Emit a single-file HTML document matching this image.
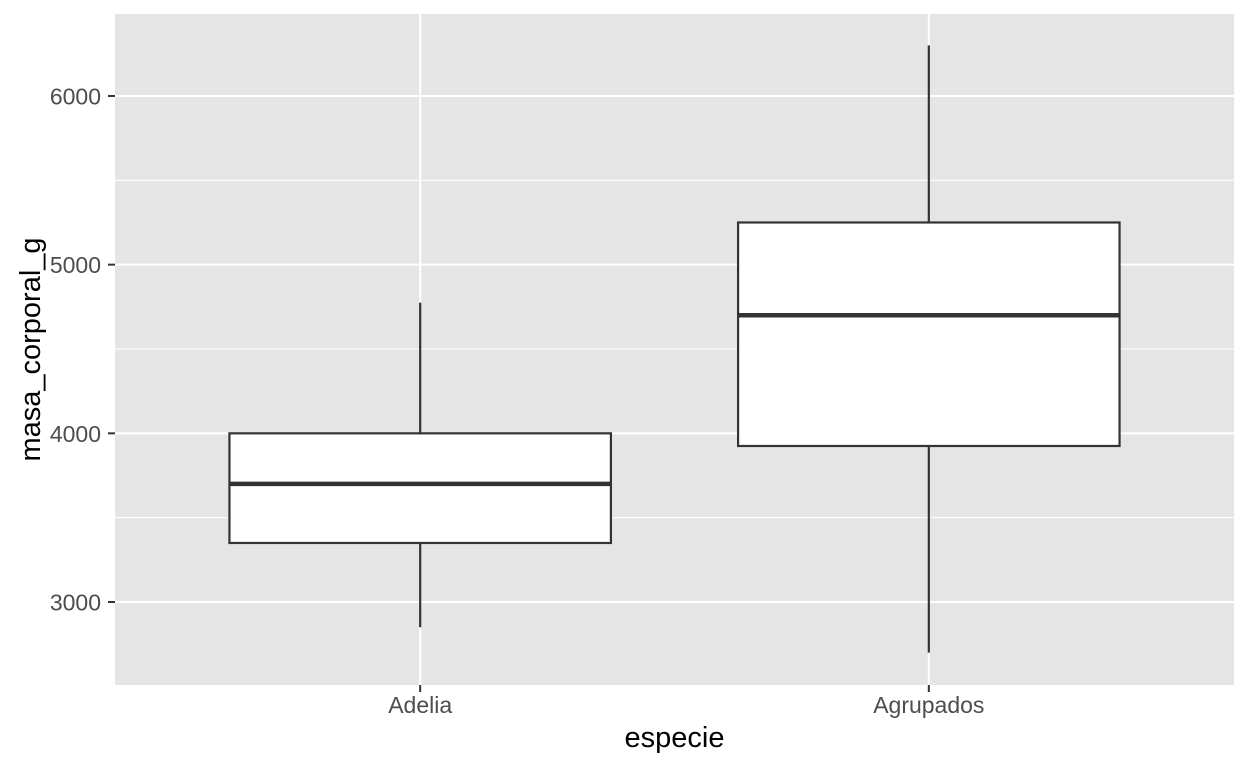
<!DOCTYPE html>
<html><head><meta charset="utf-8"><style>
html,body{margin:0;padding:0;background:#fff;}
svg{display:block;font-family:"Liberation Sans",Arial,sans-serif;}
</style></head><body>
<svg id="chart" width="1248" height="768"></svg>
<script>
const categories = ["Adelia","Agrupados"];
const lowerWhisker = [2850, 2700];
const q1Values = [3350, 3925];
const medians = [3700, 4700];
const q3Values = [4000, 5250];
const upperWhisker = [4775, 6300];
const yTicks = [3000, 4000, 5000, 6000];
const yMinor = [3500, 4500, 5500];

const svg = document.getElementById('chart');
const NS = 'http://www.w3.org/2000/svg';
const P = {l:115, r:1234, t:14, b:685};
const yMin = 2508, yMax = 6486;
const y = v => P.b - (v - yMin) / (yMax - yMin) * (P.b - P.t);
const unit = (P.r - P.l) / (categories.length - 1 + 1.2);
const x = i => P.l + (i + 0.6) * unit;
function mk(tag, attrs, name, text){
  const e = document.createElementNS(NS, tag);
  for (const k in attrs) e.setAttribute(k, attrs[k]);
  
  
  if (text !== undefined) e.textContent = text;
  svg.appendChild(e);
  return e;
}
mk('rect', {x:P.l, y:P.t, width:P.r-P.l, height:P.b-P.t, fill:'#e5e5e5'}, 'plot-panel');
yMinor.forEach(v => mk('line', {x1:P.l, x2:P.r, y1:y(v), y2:y(v), stroke:'#fff', 'stroke-width':1}, 'minor-gridline'));
yTicks.forEach(v => {
  mk('line', {x1:P.l, x2:P.r, y1:y(v), y2:y(v), stroke:'#fff', 'stroke-width':2}, 'major-gridline');
  mk('line', {x1:P.l-7, x2:P.l, y1:y(v), y2:y(v), stroke:'#333', 'stroke-width':2}, 'y-tick');
  mk('text', {x:101, y:y(v)+8.5, 'text-anchor':'end', 'font-size':23, fill:'#4d4d4d'}, 'y-tick-label', String(v));
});
categories.forEach((c, i) => {
  const cx = x(i), hw = 0.375 * unit;
  mk('line', {x1:cx, x2:cx, y1:P.t, y2:P.b, stroke:'#fff', 'stroke-width':2}, 'x-gridline');
  mk('line', {x1:cx, x2:cx, y1:P.b, y2:P.b+7, stroke:'#333', 'stroke-width':2}, 'x-tick');
  mk('text', {x:cx, y:713, 'text-anchor':'middle', 'font-size':23, fill:'#4d4d4d'}, 'x-tick-label', c);
  mk('line', {x1:cx, x2:cx, y1:y(q3Values[i]), y2:y(upperWhisker[i]), stroke:'#333', 'stroke-width':2.2}, 'upper-whisker');
  mk('line', {x1:cx, x2:cx, y1:y(q1Values[i]), y2:y(lowerWhisker[i]), stroke:'#333', 'stroke-width':2.2}, 'lower-whisker');
  mk('rect', {x:cx-hw, y:y(q3Values[i]), width:2*hw, height:y(q1Values[i])-y(q3Values[i]), fill:'#fff', stroke:'#333', 'stroke-width':2.2}, 'box-' + c.toLowerCase());
  mk('line', {x1:cx-hw, x2:cx+hw, y1:y(medians[i]), y2:y(medians[i]), stroke:'#333', 'stroke-width':4.5}, 'median-line');
});
mk('text', {x:(P.l+P.r)/2, y:747, 'text-anchor':'middle', 'font-size':29, fill:'#000'}, 'x-axis-title', 'especie');
mk('text', {x:40, y:(P.t+P.b)/2, 'text-anchor':'middle', 'font-size':29, fill:'#000', transform:'rotate(-90 40 '+((P.t+P.b)/2)+')'}, 'y-axis-title', 'masa_corporal_g');
</script>
</body></html>
